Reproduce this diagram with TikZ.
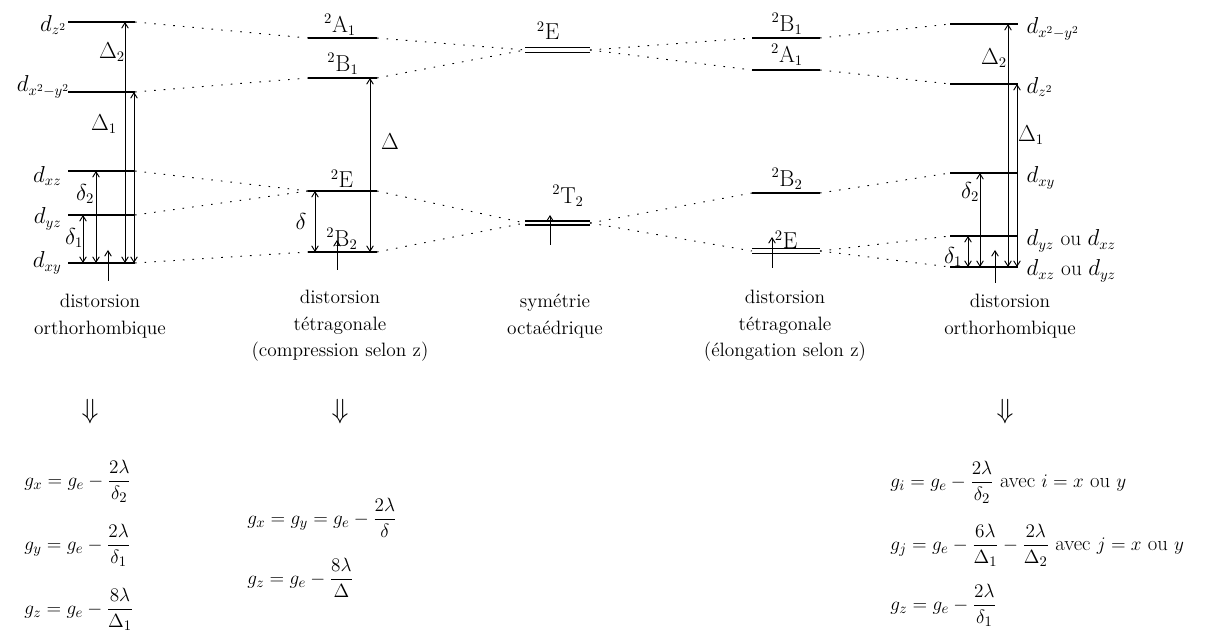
\documentclass[tikz,border=0pt]{standalone}
\usepackage{amsmath}
\usepackage{tikz}
\usetikzlibrary{positioning,arrows.meta}

\begin{document}
\begin{tikzpicture}[
    x=0.75pt, y=-0.75pt,
    font=\fontsize{14}{17}\selectfont,
    lvl/.style={line width=0.9pt},
    thicklvl/.style={line width=2pt},
    corr/.style={dash pattern=on 1.2pt off 6pt, line width=0.7pt},
    dgap/.style={{Straight Barb[length=4pt,width=5pt]}-{Straight Barb[length=4pt,width=5pt]}, line width=0.7pt},
    elec/.style={-{Straight Barb[length=4pt,width=5pt]}, line width=0.7pt},
    lab/.style={inner sep=1pt, font=\fontsize{16}{19}\selectfont},
    legend/.style={align=center, font=\fontsize{14.5}{20}\selectfont},
    frm/.style={anchor=west, inner sep=0pt, font=\fontsize{15.5}{18}\selectfont}
  ]
    \useasboundingbox (0,0) rectangle (1211,634);

    % orthorhombique (compression)
    \foreach \n/\y in {az/22, ax/92, axz/171, ayz/215, axy/263} {
      \coordinate (\n-l) at (68,\y);
      \coordinate (\n-r) at (135,\y);
      \draw[lvl] (\n-l) -- (\n-r);
    }
    \node[lab, anchor=east] (laz)  at (68,25)  {$d_{z^2}$};
    \node[lab, anchor=east] (lax)  at (71,87)  {$d_{x^2-y^2}$};
    \node[lab, anchor=east] (laxz) at (63,176) {$d_{xz}$};
    \node[lab, anchor=east] (layz) at (63,219) {$d_{yz}$};
    \node[lab, anchor=east] (laxy) at (63,263) {$d_{xy}$};
    \draw[dgap] (83,0 |- axy-l) -- (83,0 |- ayz-l);
    \draw[dgap] (96,0 |- axy-l) -- (96,0 |- axz-l);
    \draw[dgap] (125,0 |- axy-l) -- (125,0 |- az-l);
    \draw[dgap] (134,0 |- axy-l) -- (134,0 |- ax-l);
    \coordinate (ae) at (108,281);
    \draw[elec] (ae) -- ++(0,-31);
    \node[lab] (ad1) at (74,238)  {$\delta_1$};
    \node[lab] (ad2) at (85,194)  {$\delta_2$};
    \node[lab] (aD1) at (104,124) {$\Delta_1$};
    \node[lab] (aD2) at (112,52)  {$\Delta_2$};

    % tetragonale (compression selon z)
    \foreach \n/\y in {bA/38, bB/78, bE/191, bBb/252} {
      \coordinate (\n-l) at (308,\y);
      \coordinate (\n-r) at (377,\y);
    }
    \draw[lvl] (bA-l) -- (bA-r);
    \draw[lvl] (bB-l) -- (bB-r);
    \draw[thicklvl] (bE-l) -- (bE-r);
    \draw[lvl] (bBb-l) -- (bBb-r);
    \node[lab] (lbA)  at (340,25)  {$^2\mathrm{A}_1$};
    \node[lab] (lbB)  at (343,64)  {$^2\mathrm{B}_1$};
    \node[lab] (lbE)  at (342,179) {$^2\mathrm{E}$};
    \node[lab] (lbBb) at (342,239) {$^2\mathrm{B}_2$};
    \draw[dgap] (315,0 |- bBb-l) -- (315,0 |- bE-l);
    \draw[dgap] (370,0 |- bBb-l) -- (370,0 |- bB-l);
    \coordinate (be) at (337,270);
    \draw[elec] (be) -- ++(0,-30);
    \node[lab] (bd) at (301,222) {$\delta$};
    \node[lab] (bD) at (390,142) {$\Delta$};

    % octaedrique
    \coordinate (cE-l) at (525,50);  \coordinate (cE-r) at (590,50);
    \coordinate (cT-l) at (525,223); \coordinate (cT-r) at (590,223);
    \draw[line width=0.7pt, double, double distance=2.6pt] (cE-l) -- (cE-r);
    \draw[line width=1.5pt, double, double distance=1.6pt] (cT-l) -- (cT-r);
    \node[lab] (lcE) at (548,31)  {$^2\mathrm{E}$};
    \node[lab] (lcT) at (568,196) {$^2\mathrm{T}_2$};
    \coordinate (ce) at (550,245);
    \draw[elec] (ce) -- ++(0,-30);

    % tetragonale (elongation selon z)
    \foreach \n/\y in {dB/38, dA/70, dBb/193, dE/251} {
      \coordinate (\n-l) at (752,\y);
      \coordinate (\n-r) at (820,\y);
    }
    \draw[lvl] (dB-l) -- (dB-r);
    \draw[lvl] (dA-l) -- (dA-r);
    \draw[lvl] (dBb-l) -- (dBb-r);
    \draw[line width=0.7pt, double, double distance=2.6pt] (dE-l) -- (dE-r);
    \node[lab] (ldB)  at (787,24)  {$^2\mathrm{B}_1$};
    \node[lab] (ldA)  at (787,55)  {$^2\mathrm{A}_1$};
    \node[lab] (ldBb) at (787,179) {$^2\mathrm{B}_2$};
    \node[lab] (ldE)  at (786,240) {$^2\mathrm{E}$};
    \coordinate (de) at (772,268);
    \draw[elec] (de) -- ++(0,-31);

    % orthorhombique (elongation)
    \foreach \n/\y in {ex/24, ez/84, exy/173, eA/236, eB/267} {
      \coordinate (\n-l) at (950,\y);
      \coordinate (\n-r) at (1018,\y);
      \draw[lvl] (\n-l) -- (\n-r);
    }
    \node[lab, anchor=west] (lex)  at (1025,29)  {$d_{x^2-y^2}$};
    \node[lab, anchor=west] (lez)  at (1025,87)  {$d_{z^2}$};
    \node[lab, anchor=west] (lexy) at (1025,178) {$d_{xy}$};
    \node[lab, anchor=west] (leA)  at (1025,241) {$d_{yz}$ ou $d_{xz}$};
    \node[lab, anchor=west] (leB)  at (1025,271) {$d_{xz}$ ou $d_{yz}$};
    \draw[dgap] (968,0 |- eB-l) -- (968,0 |- eA-l);
    \draw[dgap] (980,0 |- eB-l) -- (980,0 |- exy-l);
    \draw[dgap] (1008,0 |- eB-l) -- (1008,0 |- ex-l);
    \draw[dgap] (1017,0 |- eB-l) -- (1017,0 |- ez-l);
    \coordinate (ee) at (995,283);
    \draw[elec] (ee) -- ++(0,-33);
    \node[lab] (ed1) at (953,257)  {$\delta_1$};
    \node[lab] (ed2) at (970,192)  {$\delta_2$};
    \node[lab] (eD1) at (1031,135) {$\Delta_1$};
    \node[lab] (eD2) at (994,58)   {$\Delta_2$};

    % correlations
    \draw[corr] (az-r) -- (bA-l);
    \draw[corr] (ax-r) -- (bB-l);
    \draw[corr] (axz-r) -- (bE-l);
    \draw[corr] (ayz-r) -- (bE-l);
    \draw[corr] (axy-r) -- (bBb-l);
    \draw[corr] (bA-r) -- (cE-l);
    \draw[corr] (bB-r) -- (cE-l);
    \draw[corr] (bE-r) -- (cT-l);
    \draw[corr] (bBb-r) -- (cT-l);
    \draw[corr] (cE-r) -- (dB-l);
    \draw[corr] (cE-r) -- (dA-l);
    \draw[corr] (cT-r) -- (dBb-l);
    \draw[corr] (cT-r) -- (dE-l);
    \draw[corr] (dB-r) -- (ex-l);
    \draw[corr] (dA-r) -- (ez-l);
    \draw[corr] (dBb-r) -- (exy-l);
    \draw[corr] (dE-r) -- (eA-l);
    \draw[corr] (dE-r) -- (eB-l);

    % legends
    \node[legend] (ta) at (100,316) {distorsion\\orthorhombique};
    \node[legend] (tb) at (340,326) {distorsion\\t\'etragonale\\(compression selon z)};
    \node[legend] (tc) at (555,316) {sym\'etrie\\octa\'edrique};
    \node[legend] (td) at (785,326) {distorsion\\t\'etragonale\\(\'elongation selon z)};
    \node[legend] (te) at (1010,316) {distorsion\\orthorhombique};

    \node[font=\fontsize{20}{20}\selectfont] (fa) at (90,412)   {$\Downarrow$};
    \node[font=\fontsize{20}{20}\selectfont] (fb) at (340,412)  {$\Downarrow$};
    \node[font=\fontsize{20}{20}\selectfont] (fe) at (1005,412) {$\Downarrow$};

    % g values
    \node[frm] (ga1) at (24,481) {$g_x = g_e - \dfrac{2\lambda}{\delta_2}$};
    \node[frm] (ga2) at (24,545) {$g_y = g_e - \dfrac{2\lambda}{\delta_1}$};
    \node[frm] (ga3) at (24,609) {$g_z = g_e - \dfrac{8\lambda}{\Delta_1}$};
    \node[frm] (gb1) at (247,518) {$g_x = g_y = g_e - \dfrac{2\lambda}{\delta}$};
    \node[frm] (gb2) at (247,578) {$g_z = g_e - \dfrac{8\lambda}{\Delta}$};
    \node[frm] (ge1) at (890,482) {$g_i = g_e - \dfrac{2\lambda}{\delta_2}$ avec $i = x$ ou $y$};
    \node[frm] (ge2) at (890,545) {$g_j = g_e - \dfrac{6\lambda}{\Delta_1} - \dfrac{2\lambda}{\Delta_2}$ avec $j = x$ ou $y$};
    \node[frm] (ge3) at (890,605) {$g_z = g_e - \dfrac{2\lambda}{\delta_1}$};
  \end{tikzpicture}
\end{document}
